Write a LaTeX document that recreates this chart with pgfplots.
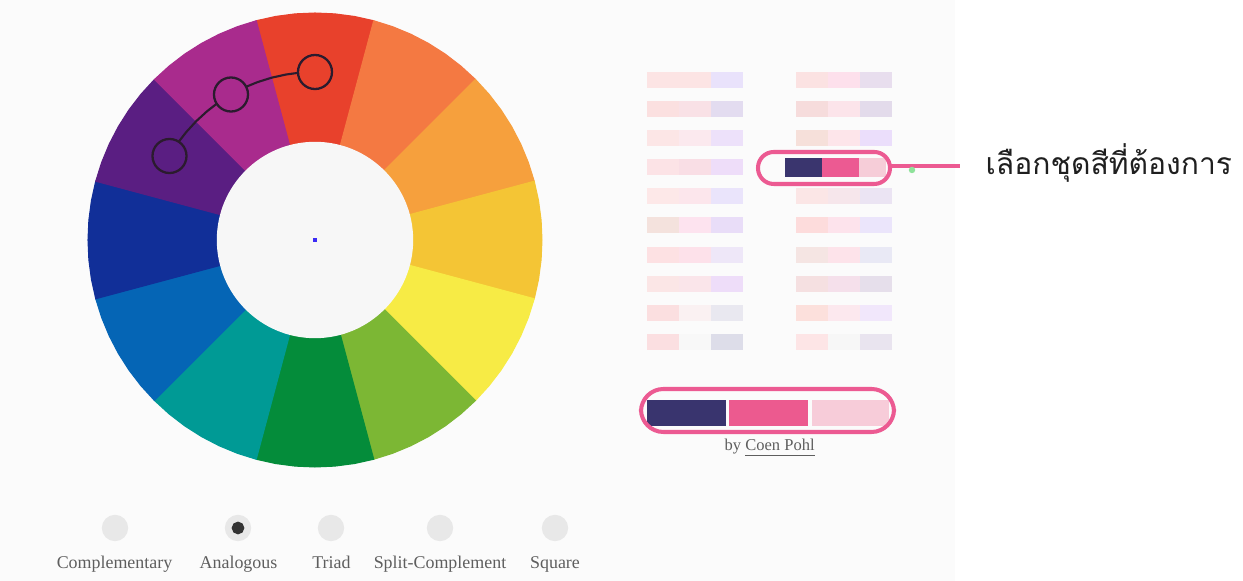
\documentclass[border=0pt]{standalone}
\usepackage{pgfplots}
\pgfplotsset{compat=1.18}
\usepgfplotslibrary{polar}
\usepackage{fontspec}
\setmainfont{Liberation Serif}
\newfontfamily\thaifont[Script=Thai]{Loma}
\definecolor{bgL}{HTML}{FBFBFB}
\definecolor{ring}{HTML}{2B1B2E}
\definecolor{hpink}{HTML}{EC5A92}
\definecolor{radio}{HTML}{E8E8E8}
\definecolor{labelgray}{HTML}{5E5E5E}
\definecolor{dotblue}{HTML}{3B2BF5}
\definecolor{dotgreen}{HTML}{8EE29A}
\definecolor{inner}{HTML}{F7F7F7}
\definecolor{seldot}{HTML}{333333}
% swatch: x0 y0 x1 y1 hex
\newcommand{\sw}[5]{\definecolor{c#5}{HTML}{#5}\addplot[fill=c#5, draw=none] coordinates {(#1,#2) (#3,#2) (#3,#4) (#1,#4)} -- cycle;}
\newcommand{\lrow}[5]{\sw{647}{#1}{679}{#2}{#3}\sw{679}{#1}{711}{#2}{#4}\sw{711}{#1}{743}{#2}{#5}}
\newcommand{\rrow}[5]{\sw{796}{#1}{828}{#2}{#3}\sw{828}{#1}{860}{#2}{#4}\sw{860}{#1}{892}{#2}{#5}}
% wedge: colour hex, then 7 angles
\newcommand{\wdg}[8]{\definecolor{w#1}{HTML}{#1}\addplot[data cs=polar, fill=w#1, draw=w#1, line width=0.3pt] coordinates {(0,0) (#2,227) (#3,227) (#4,227) (#5,227) (#6,227) (#7,227) (#8,227)} -- cycle;}
\begin{document}
\begin{tikzpicture}
\begin{axis}[scale only axis, width=12.43cm, height=5.81cm,
  xmin=0, xmax=1243, ymin=0, ymax=581, y dir=reverse,
  hide axis, clip=false]
% background
\addplot[fill=bgL, draw=none] coordinates {(0,0) (955,0) (955,581) (0,581)} -- cycle;
\addplot[fill=white, draw=none] coordinates {(955,0) (1243,0) (1243,581) (955,581)} -- cycle;
% left column of palettes
\lrow{72}{88}{FCE4E4}{FCE4E4}{E9E2FB}
\lrow{101.1}{117.1}{FBE0E0}{F9E1E6}{E3DCF0}
\lrow{130.2}{146.2}{FCE6E6}{FBE9EE}{EDE1FA}
\lrow{159.3}{175.3}{FCE3E6}{F9DEE5}{EEDDF9}
\lrow{188.4}{204.4}{FDE8E8}{FCE6EC}{EAE4FB}
\lrow{217.5}{233.5}{F4E2DD}{FDE3EF}{E9DDF8}
\lrow{246.6}{262.6}{FDE1E3}{FDE1EA}{EEE7F8}
\lrow{275.7}{291.7}{FBE6E6}{FAE5EA}{EEDDF9}
\lrow{304.8}{320.8}{FBDFE0}{FAF1F2}{E9E8F0}
\lrow{333.9}{349.9}{FBDFE1}{F8F8F8}{DDDDE9}
% right column of palettes
\rrow{72}{88}{FBE2E2}{FDE0EC}{E8DEEE}
\rrow{101.1}{117.1}{F6DCDC}{FCE4EA}{E3DBEB}
\rrow{130.2}{146.2}{F6E0DA}{FDE5EA}{EBDEFB}
\rrow{188.4}{204.4}{FBE6E6}{F6E6EB}{EBE4F3}
\rrow{217.5}{233.5}{FDDCDC}{FDE3EC}{EBE5FB}
\rrow{246.6}{262.6}{F5E5E3}{FDE3EA}{E9E9F5}
\rrow{275.7}{291.7}{F5E0E1}{F5E0EB}{E6DFEB}
\rrow{304.8}{320.8}{FCE0DC}{FCE8EE}{F1E7FB}
\rrow{333.9}{349.9}{FDE5E6}{F7F7F7}{E9E4EF}
% highlighted palette
\sw{785}{158}{822}{177}{3A356E}
\sw{822}{158}{859}{177}{EC5A92}
\sw{859}{158}{886}{177}{F6CDD8}
\addplot[draw=hpink, line width=1.15pt, rounded corners=4.5pt] coordinates {(758,152) (890,152) (890,184) (758,184)} -- cycle;
\addplot[draw=hpink, line width=1.15pt] coordinates {(890,166) (960,166)};
\addplot[only marks, color=dotgreen, mark=*, mark size=0.7pt, mark options={fill=dotgreen, draw=dotgreen}] coordinates {(912,170)};
% selected palette
\sw{647}{400}{726}{426}{39346E}
\sw{729}{400}{808}{426}{EC5A8F}
\sw{812}{400}{889}{426}{F7CCD9}
\addplot[draw=hpink, line width=1.15pt, rounded corners=6.4pt] coordinates {(641,389) (894,389) (894,432) (641,432)} -- cycle;
\node[anchor=base west, font=\fontsize{4.7}{5.5}\selectfont, text=labelgray, inner sep=0pt] at (axis cs:724,450.5) {by \underline{Coen Pohl}};
% annotation text
\node[anchor=base west, font=\thaifont\fontsize{8.55}{10}\selectfont, text=black!88, inner sep=0pt] at (axis cs:985,175) {เลือกชุดสีที่ต้องการ};
% radio buttons
\addplot[only marks, color=radio, mark=*, mark size=3.55pt, mark options={fill=radio, draw=radio}] coordinates {(115,528) (238,528) (331,528) (440,528) (555,528)};
\addplot[only marks, color=seldot, mark=*, mark size=1.6pt, mark options={fill=seldot, draw=seldot}] coordinates {(238,528)};
\node[anchor=base, font=\fontsize{5.1}{6}\selectfont, text=labelgray, inner sep=0pt] at (axis cs:114.5,569) {Complementary};
\node[anchor=base, font=\fontsize{5.1}{6}\selectfont, text=labelgray, inner sep=0pt] at (axis cs:238.5,569) {Analogous};
\node[anchor=base, font=\fontsize{5.1}{6}\selectfont, text=labelgray, inner sep=0pt] at (axis cs:331.5,569) {Triad};
\node[anchor=base, font=\fontsize{5.1}{6}\selectfont, text=labelgray, inner sep=0pt] at (axis cs:440,569) {Split-Complement};
\node[anchor=base, font=\fontsize{5.1}{6}\selectfont, text=labelgray, inner sep=0pt] at (axis cs:555,569) {Square};
\end{axis}
\begin{axis}[scale only axis, width=5cm, height=5cm,
  xmin=-250, xmax=250, ymin=-250, ymax=250,
  hide axis, clip=false, at={(0.65cm,0.91cm)}, anchor=south west]
\wdg{E8412C}{75}{80}{85}{90}{95}{100}{105}
\wdg{F47942}{45}{50}{55}{60}{65}{70}{75}
\wdg{F6A03D}{15}{20}{25}{30}{35}{40}{45}
\wdg{F4C535}{-15}{-10}{-5}{0}{5}{10}{15}
\wdg{F7EB45}{-45}{-40}{-35}{-30}{-25}{-20}{-15}
\wdg{7CB734}{-75}{-70}{-65}{-60}{-55}{-50}{-45}
\wdg{048C3A}{-105}{-100}{-95}{-90}{-85}{-80}{-75}
\wdg{009A95}{-135}{-130}{-125}{-120}{-115}{-110}{-105}
\wdg{0565B5}{-165}{-160}{-155}{-150}{-145}{-140}{-135}
\wdg{112F98}{165}{170}{175}{180}{185}{190}{195}
\wdg{5A1E82}{135}{140}{145}{150}{155}{160}{165}
\wdg{A92B8D}{105}{110}{115}{120}{125}{130}{135}
% inner disc and centre dot
\addplot[only marks, color=inner, mark=*, mark size=27.74pt, mark options={fill=inner, draw=inner}] coordinates {(0,0)};
\addplot[only marks, color=dotblue, mark=square*, mark size=0.45pt, mark options={fill=dotblue, draw=dotblue}] coordinates {(0,0)};
% analogous selection
\addplot[data cs=polar, draw=ring, line width=0.6pt] coordinates {(144.2,168) (140,168) (135,168) (130,168) (125.8,168)};
\addplot[data cs=polar, draw=ring, line width=0.6pt] coordinates {(114.2,168) (110,168) (105,168) (100,168) (95.8,168)};
\addplot[data cs=polar, only marks, color=ring, mark=o, mark size=4.84pt, mark options={draw=ring, line width=0.65pt}] coordinates {(150,168) (120,168) (90,168)};
\end{axis}
\end{tikzpicture}
\end{document}
